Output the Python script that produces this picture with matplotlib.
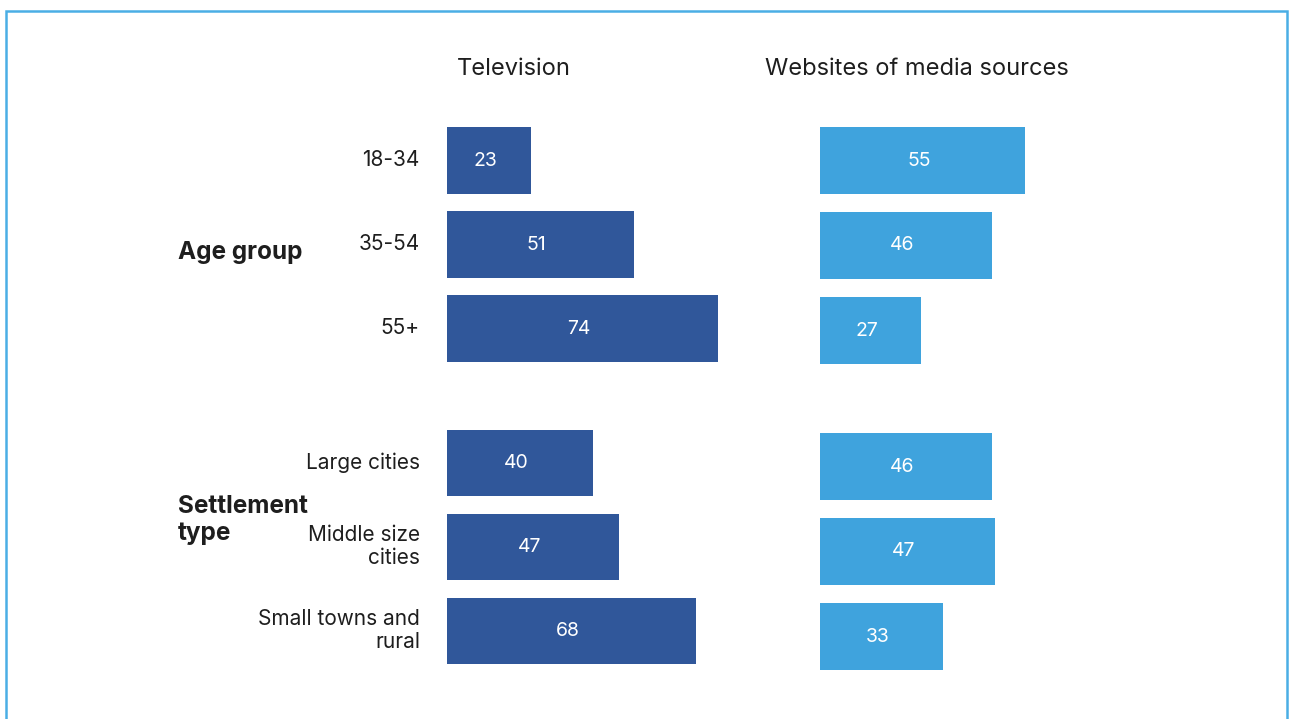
import matplotlib.pyplot as plt
from matplotlib.patches import Rectangle

plt.rcParams['font.family'] = ['Inter', 'DejaVu Sans']

# data
categories = ['18-34', '35-54', '55+', 'Large cities', 'Middle size\ncities', 'Small towns and\nrural']
groups = ['Age group', 'Settlement\ntype']
television = [23, 51, 74, 40, 47, 68]
websites = [55, 46, 27, 46, 47, 33]
panel_titles = ['Television', 'Websites of media sources']

# row positions, with a gap between the two groups
rows = [0, 1, 2, 3.6, 4.6, 5.6]

W, H = 1289, 719
fig = plt.figure(figsize=(W / 100, H / 100), dpi=100)

TV_COLOR = '#30579a'
WEB_COLOR = '#3fa3dd'
TEXT = '#1e1e1e'


def px_axes(left, width, top_center, step):
    # axes positioned in pixels; rows mapped so that row 0 sits at top_center
    y0 = top_center - 0.5 * step
    y1 = top_center + 6.1 * step
    ax = fig.add_axes([left / W, 1 - y1 / H, width / W, (y1 - y0) / H])
    ax.set_xlim(0, 100)
    ax.set_ylim(6.1, -0.5)
    ax.axis('off')
    return ax


ax_tv = px_axes(447, 366, 160.5, 84)
ax_web = px_axes(820, 373, 160.5, 85)

for ax, vals, color in [(ax_tv, television, TV_COLOR),
                        (ax_web, websites, WEB_COLOR)]:
    ax.barh(rows, vals, height=0.79, color=color)
    for y, v in zip(rows, vals):
        ax.text(v / 2 - 1, y, str(v), color='white', fontsize=14,
                ha='center', va='center')

# panel titles
fig.text(514 / W, 1 - 69 / H, panel_titles[0], fontsize=17, color=TEXT,
         ha='center', va='center')
fig.text(917 / W, 1 - 69 / H, panel_titles[1], fontsize=17, color=TEXT,
         ha='center', va='center')

# category labels, right aligned against the television bars
for y, lab in zip(rows, categories):
    ax_tv.text(-7.4, y, lab, fontsize=15, color=TEXT, ha='right', va='center',
               linespacing=1.2)

# group labels
fig.text(178 / W, 1 - 253 / H, groups[0], fontsize=17.5, fontweight='bold',
         color=TEXT, ha='left', va='center')
fig.text(178 / W, 1 - 520 / H, groups[1], fontsize=17.5, fontweight='bold',
         color=TEXT, ha='left', va='center', linespacing=1.2)

# frame around the chart, open at the bottom
fig.add_artist(Rectangle((6 / W, -0.05), 1281 / W, 1.05 - 11 / H,
                         transform=fig.transFigure, fill=False,
                         edgecolor='#4aaee5', linewidth=1.8))

fig.savefig('out.png', dpi=100, facecolor='white')
